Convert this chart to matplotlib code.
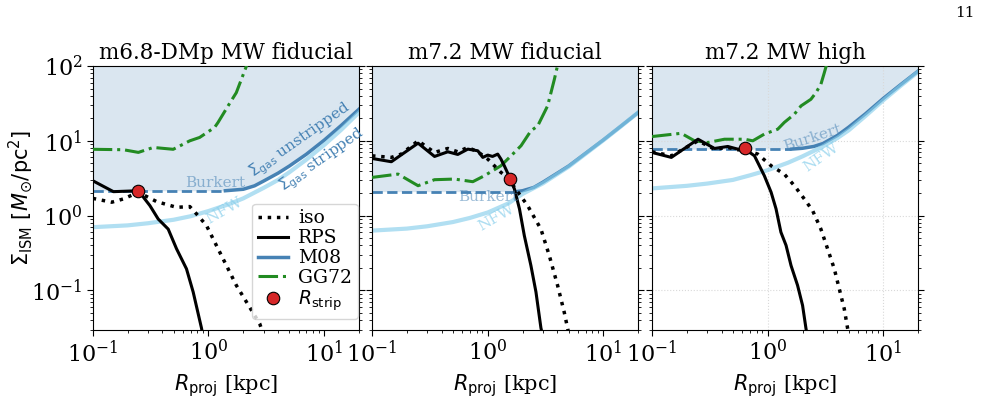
import numpy as np
import matplotlib.pyplot as plt
from matplotlib.lines import Line2D

plt.rcParams['font.family'] = 'serif'
plt.rcParams['font.serif'] = ['DejaVu Serif']
plt.rcParams['mathtext.fontset'] = 'dejavusans'

titles = ['m6.8-DMp MW fiducial', 'm7.2 MW fiducial', 'm7.2 MW high']

# M08 threshold, Burkert host: flat core level, then rising part
burk_core_R = [1.4, 1.75, 1.6]
burk_core_S = [2.15, 2.09, 7.74]
burk_R = [[1.4, 2.0, 2.5, 3.0, 4.0, 5.0, 7.0, 10.0, 14.0, 20.0],
          [1.75, 2.0, 2.5, 3.0, 4.0, 5.0, 7.0, 10.0, 14.0, 20.0],
          [1.6, 2.0, 2.5, 3.0, 4.0, 5.0, 7.0, 10.0, 14.0, 20.0]]
burk_S = [[2.15, 2.25, 2.5, 2.9, 3.7, 4.6, 6.6, 10.2, 16.0, 26.5],
          [2.09, 2.15, 2.38, 2.8, 3.7, 4.6, 6.8, 10.3, 15.5, 24.0],
          [7.74, 7.95, 8.4, 9.2, 11.8, 15.2, 23.0, 37.0, 56.0, 86.0]]

# M08 threshold, NFW host
nfw_R = [0.1, 0.2, 0.3, 0.5, 0.7, 1.0, 1.5, 2.0, 3.0, 4.0, 5.0, 7.0, 10.0, 14.0, 20.0]
nfw_S = [[0.70, 0.74, 0.79, 0.88, 0.98, 1.15, 1.42, 1.7, 2.35, 3.0, 3.8, 5.6, 8.8, 14.0, 24.0],
         [0.63, 0.67, 0.72, 0.82, 0.93, 1.1, 1.45, 1.95, 2.7, 3.6, 4.5, 6.7, 10.2, 15.4, 24.0],
         [2.31, 2.5, 2.68, 3.0, 3.45, 4.05, 5.1, 6.2, 8.4, 10.9, 13.8, 21.5, 35.0, 54.0, 84.0]]

# GG72 threshold
gg_R = [[0.1, 0.184, 0.248, 0.334, 0.496, 0.69, 0.84, 1.13, 1.21, 1.53, 1.74, 2.13, 2.2],
        [0.1, 0.168, 0.25, 0.347, 0.516, 0.743, 0.935, 1.30, 1.59, 1.94, 2.36, 2.70, 3.29, 3.76, 4.0],
        [0.1, 0.179, 0.233, 0.304, 0.423, 0.63, 0.743, 0.935, 1.22, 1.39, 1.70, 1.94, 2.36, 2.61, 2.88, 3.08, 3.23]]
gg_S = [[7.7, 7.6, 7.0, 8.15, 7.7, 10.0, 11.1, 15.1, 17.6, 32.0, 44.0, 100.0, 120.0],
        [3.24, 3.59, 2.51, 3.02, 3.08, 2.84, 3.41, 4.64, 6.3, 8.6, 13.6, 15.8, 29.3, 66.0, 100.0],
        [11.4, 12.6, 10.0, 9.5, 10.5, 10.5, 10.0, 12.3, 14.3, 17.6, 22.7, 29.3, 35.9, 44.0, 57.0, 81.0, 105.0]]

# RPS run profiles
rps_R = [[0.1, 0.151, 0.248, 0.312, 0.368, 0.449, 0.53, 0.646, 0.738, 0.87, 0.92],
         [0.1, 0.147, 0.25, 0.347, 0.452, 0.551, 0.673, 0.82, 0.906, 1.0, 1.10, 1.22, 1.30, 1.39, 1.57,
          1.70, 1.88, 2.07, 2.36, 2.61, 2.88, 3.08],
         [0.1, 0.147, 0.25, 0.347, 0.452, 0.551, 0.638, 0.768, 0.935, 1.07, 1.18, 1.30, 1.44, 1.59,
          1.81, 2.0, 2.14, 2.25]]
rps_S = [[2.93, 2.09, 2.15, 1.36, 0.90, 0.66, 0.36, 0.194, 0.095, 0.0315, 0.02],
         [5.81, 5.25, 9.3, 6.18, 7.13, 6.57, 7.74, 7.36, 6.0, 6.44, 6.18, 6.64, 5.7, 4.64, 3.08,
          2.27, 1.23, 0.54, 0.215, 0.095, 0.0315, 0.02],
         [6.99, 6.0, 10.5, 7.9, 8.4, 7.74, 7.74, 6.3, 3.41, 2.05, 1.23, 0.60, 0.40, 0.215,
          0.117, 0.063, 0.031, 0.02]]

# isolated run profiles
iso_R = [[0.1, 0.146, 0.184, 0.248, 0.356, 0.53, 0.69, 0.79, 0.96, 1.17, 1.43, 1.74, 2.13, 2.77, 3.0],
         [0.1, 0.147, 0.179, 0.25, 0.347, 0.452, 0.551, 0.673, 0.82, 1.0, 1.14, 1.30, 1.49, 1.70,
          2.21, 2.88, 3.40, 4.01, 4.58, 4.9, 5.2],
         [0.1, 0.147, 0.25, 0.347, 0.452, 0.551, 0.673, 0.82, 1.07, 1.39, 1.70, 2.07, 2.44, 2.88,
          3.29, 3.76, 4.15, 4.58, 4.9, 5.2]]
iso_S = [[1.70, 1.51, 1.67, 2.05, 1.54, 1.29, 1.32, 1.05, 0.74, 0.40, 0.215, 0.117, 0.070, 0.036, 0.025],
         [6.3, 6.0, 6.64, 10.0, 6.99, 7.9, 7.13, 8.15, 7.13, 5.7, 4.64, 3.78, 3.24, 2.39,
          1.36, 0.66, 0.293, 0.117, 0.051, 0.031, 0.02],
         [7.13, 6.3, 10.0, 7.74, 8.15, 7.6, 7.36, 6.64, 4.64, 3.59, 2.51, 1.67, 1.17, 0.66,
          0.36, 0.194, 0.105, 0.057, 0.031, 0.02]]

# stripping radius
rstrip_R = [0.248, 1.57, 0.64]
rstrip_S = [2.15, 3.08, 7.9]

xmin, xmax = 0.1, 20
ymin, ymax = 0.03, 100

fig = plt.figure(figsize=(9.81, 4.08), dpi=100)
lefts = [0.0945, 0.3792, 0.6646]
axes = [fig.add_axes([l, 0.1924, 0.2715, 0.6458]) for l in lefts]

steel = 'steelblue'
sky = 'skyblue'
green = 'forestgreen'

for i, ax in enumerate(axes):
    ax.set_xscale('log')
    ax.set_yscale('log')

    # shaded "unstripped" region above the Burkert threshold
    fx = [xmin] + burk_R[i]
    fy = [burk_core_S[i]] + burk_S[i]
    ax.fill_between(fx, fy, ymax * 2, color=steel, alpha=0.2, lw=0, zorder=0)

    ax.plot([xmin, burk_core_R[i]], [burk_core_S[i], burk_core_S[i]], '--',
            color=steel, lw=2, zorder=2)
    ax.plot(burk_R[i], burk_S[i], '-', color=steel, lw=2.5, zorder=2)
    ax.plot(nfw_R, nfw_S[i], '-', color=sky, lw=3, alpha=0.65, zorder=2)

    ax.plot(gg_R[i], gg_S[i], '-.', color=green, lw=2.2, zorder=3)
    ax.plot(rps_R[i], rps_S[i], '-', color='k', lw=2.2, zorder=4)
    ax.plot(iso_R[i], iso_S[i], ':', color='k', lw=2.5, zorder=4)
    ax.plot(rstrip_R[i], rstrip_S[i], 'o', color='#d62728', mec='k', mew=0.8,
            ms=9, zorder=6)

    ax.set_xlim(xmin, xmax)
    ax.set_ylim(ymin, ymax)
    ax.set_title(titles[i], fontsize=15.5, pad=5)
    ax.set_xlabel(r'$R_{\rm proj}$ [kpc]', fontsize=15)
    ax.tick_params(axis='both', which='major', labelsize=16, length=4)
    ax.tick_params(axis='y', which='both', left=True, right=True)
    ax.tick_params(axis='y', which='minor', length=2)
    ax.tick_params(axis='x', which='minor', length=2)
    if i > 0:
        ax.tick_params(axis='y', which='both', labelleft=False)

axes[0].set_ylabel(r'$\Sigma_{\rm ISM}\ [M_{\odot}/{\rm pc}^2]$', fontsize=15, labelpad=-3)
axes[2].grid(True, which='major', ls=':', color='0.85', lw=0.8)

# annotations
axes[0].text(1.15, 2.7, 'Burkert', color=steel, alpha=0.55, fontsize=11,
             ha='center', va='center', zorder=5)
axes[0].text(1.38, 1.17, 'NFW', color=sky, alpha=0.7, fontsize=11, rotation=30,
             ha='center', va='center', zorder=5)
axes[0].text(6.2, 10.3, r'$\Sigma_{\rm gas}$ unstripped', color=steel, fontsize=11,
             rotation=35, ha='center', va='center', zorder=5)
axes[0].text(9.6, 5.6, r'$\Sigma_{\rm gas}$ stripped', color=steel, fontsize=11,
             rotation=35, ha='center', va='center', zorder=5)
axes[1].text(1.0, 1.79, 'Burkert', color=steel, alpha=0.55, fontsize=11,
             ha='center', va='center', zorder=5)
axes[1].text(1.18, 0.95, 'NFW', color=sky, alpha=0.7, fontsize=11, rotation=30,
             ha='center', va='center', zorder=5)
axes[2].text(2.44, 11.1, 'Burkert', color=steel, alpha=0.55, fontsize=11, rotation=18,
             ha='center', va='center', zorder=5)
axes[2].text(2.88, 6.0, 'NFW', color=sky, alpha=0.7, fontsize=11, rotation=35,
             ha='center', va='center', zorder=5)

handles = [
    Line2D([], [], ls=':', color='k', lw=2.5),
    Line2D([], [], ls='-', color='k', lw=2.2),
    Line2D([], [], ls='-', color=steel, lw=2.5),
    Line2D([], [], ls='-.', color=green, lw=2.2),
    Line2D([], [], ls='', marker='o', color='#d62728', mec='k', mew=0.8, ms=9),
]
labels = ['iso', 'RPS', 'M08', 'GG72', r'$R_{\rm strip}$']
axes[0].legend(handles, labels, loc='lower right', bbox_to_anchor=(0.995, 0.04),
               borderaxespad=0, fontsize=13.5, handlelength=1.6, handletextpad=0.55,
               labelspacing=0.1, borderpad=0.3)

fig.text(0.9837, 0.967, '11', fontsize=11, ha='center', va='center')

fig.savefig('out.png', dpi=100)
